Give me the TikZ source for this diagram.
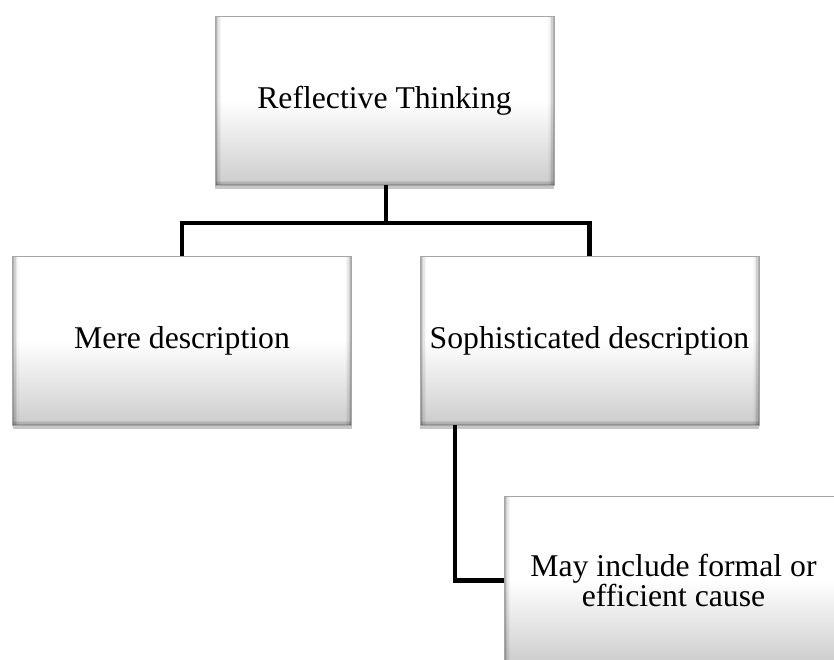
\documentclass[tikz,border=0pt]{standalone}
\usepackage{fontspec}
\setmainfont{Liberation Serif}
\usetikzlibrary{shadows}
\pgfdeclareverticalshading{boxshade}{100bp}{color(0bp)=(black!20); color(25bp)=(black!20); color(50bp)=(white); color(75bp)=(white); color(100bp)=(white)}
\tikzset{
  box/.style={rectangle, minimum width=339pt, minimum height=169pt, inner sep=0pt,
    align=center, font=\fontsize{31.7}{30}\selectfont,
    draw=black!35, line width=0.5pt,
    shading=boxshade, shading angle=0,
    drop shadow={shadow xshift=0pt, shadow yshift=-3.5pt, fill=black, opacity=0.22},
    path picture={
      \foreach \i/\o in {0.75/0.30,2.25/0.18,3.75/0.09,5.25/0.03}{
        \draw[line width=1.5pt, black, opacity=\o]
          ([xshift=\i pt]path picture bounding box.south west) -- ([xshift=\i pt]path picture bounding box.north west);
        \draw[line width=1.5pt, black, opacity=\o]
          ([xshift=-\i pt]path picture bounding box.south east) -- ([xshift=-\i pt]path picture bounding box.north east);
      }
      \foreach \i/\o in {0.75/0.28,2.25/0.14,3.75/0.05}{
        \draw[line width=1.5pt, black, opacity=\o]
          ([yshift=\i pt]path picture bounding box.south west) -- ([yshift=\i pt]path picture bounding box.south east);
      }
    }},
  conn/.style={line width=4.6pt, black, line join=miter}
}
\begin{document}
\begin{tikzpicture}[x=1pt,y=1pt]
\clip (0,0) rectangle (834,-659);
\fill[white] (0,0) rectangle (834,-659);
\coordinate (j) at (386,-223);
\coordinate (k) at (455,0);
\node[box] (top) at (384.5,-100.5) {Reflective Thinking};
\node[box] (mere) at (182,-340.5) {Mere description};
\node[box] (soph) at (589.5,-340.5) {Sophisticated description};
\node[box] (eff) at (673.5,-580.5) {May include formal or\\efficient cause};
\draw[conn] (top.south -| j) -- (j);
\draw[conn] (mere.north) |- (j) -| (soph.north);
\draw[conn] (soph.south -| k) |- (eff.west);
\end{tikzpicture}
\end{document}
